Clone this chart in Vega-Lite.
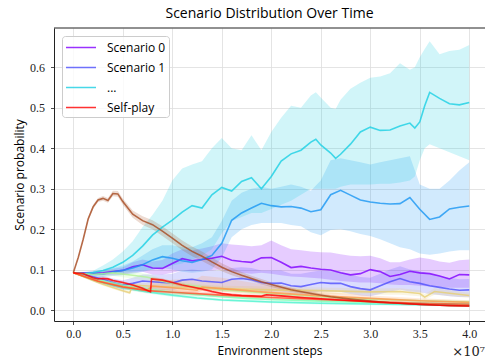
{
"$schema":"https://vega.github.io/schema/vega-lite/v6.json",
"width":431,"height":293,
"autosize":{"type":"none"},
"padding":{"left":54,"top":28,"right":0,"bottom":39},
"title":{"text":"Scenario Distribution Over Time","font":"Open Sans","fontSize":14,"fontWeight":"normal","color":"#000","offset":7,"frame":"group","anchor":"middle"},
"config":{
 "view":{"stroke":null},
 "axis":{"gridColor":"#dddddd","gridWidth":0.8,"domainColor":"#222","domainWidth":1,"tickColor":"#222","tickSize":3.5,"tickWidth":0.8,"labelFont":"Liberation Serif","labelFontSize":12,"labelColor":"#222","titleFont":"Open Sans","titleFontSize":12,"titleFontWeight":"normal","titleColor":"#000"},
 "legend":{"orient":"top-left","offset":8,"padding":3,"symbolType":"M-1,0H3","symbolSize":225,"symbolStrokeWidth":1.5,"symbolOpacity":0.8,"labelFont":"Open Sans","labelFontSize":12,"labelColor":"#000","labelOffset":25,"fillColor":"rgba(255,255,255,0.8)","strokeColor":"#cccccc","cornerRadius":3,"rowPadding":5}
},
"datasets":{
"note":[{"t":"×10⁷"}],
"top":[{"t":"top"}],
"main":[
{"s":"S0","x":0.0,"y":0.092,"lo":0.092,"hi":0.092},
{"s":"S0","x":0.1,"y":0.092,"lo":0.090,"hi":0.094},
{"s":"S0","x":0.2,"y":0.091,"lo":0.087,"hi":0.096},
{"s":"S0","x":0.3,"y":0.092,"lo":0.086,"hi":0.099},
{"s":"S0","x":0.4,"y":0.095,"lo":0.087,"hi":0.102},
{"s":"S0","x":0.5,"y":0.098,"lo":0.088,"hi":0.106},
{"s":"S0","x":0.6,"y":0.107,"lo":0.092,"hi":0.118},
{"s":"S0","x":0.7,"y":0.112,"lo":0.095,"hi":0.125},
{"s":"S0","x":0.8,"y":0.104,"lo":0.088,"hi":0.120},
{"s":"S0","x":0.9,"y":0.103,"lo":0.087,"hi":0.124},
{"s":"S0","x":1.0,"y":0.115,"lo":0.092,"hi":0.140},
{"s":"S0","x":1.1,"y":0.127,"lo":0.098,"hi":0.150},
{"s":"S0","x":1.2,"y":0.122,"lo":0.096,"hi":0.148},
{"s":"S0","x":1.3,"y":0.125,"lo":0.097,"hi":0.152},
{"s":"S0","x":1.4,"y":0.128,"lo":0.098,"hi":0.158},
{"s":"S0","x":1.5,"y":0.133,"lo":0.100,"hi":0.165},
{"s":"S0","x":1.6,"y":0.123,"lo":0.095,"hi":0.162},
{"s":"S0","x":1.7,"y":0.120,"lo":0.092,"hi":0.160},
{"s":"S0","x":1.8,"y":0.118,"lo":0.090,"hi":0.158},
{"s":"S0","x":1.9,"y":0.129,"lo":0.092,"hi":0.160},
{"s":"S0","x":2.0,"y":0.130,"lo":0.090,"hi":0.172},
{"s":"S0","x":2.1,"y":0.118,"lo":0.086,"hi":0.160},
{"s":"S0","x":2.2,"y":0.105,"lo":0.083,"hi":0.150},
{"s":"S0","x":2.3,"y":0.108,"lo":0.082,"hi":0.148},
{"s":"S0","x":2.4,"y":0.104,"lo":0.080,"hi":0.145},
{"s":"S0","x":2.5,"y":0.101,"lo":0.078,"hi":0.143},
{"s":"S0","x":2.6,"y":0.099,"lo":0.075,"hi":0.142},
{"s":"S0","x":2.7,"y":0.092,"lo":0.072,"hi":0.138},
{"s":"S0","x":2.8,"y":0.087,"lo":0.070,"hi":0.134},
{"s":"S0","x":2.9,"y":0.090,"lo":0.068,"hi":0.133},
{"s":"S0","x":3.0,"y":0.100,"lo":0.068,"hi":0.134},
{"s":"S0","x":3.1,"y":0.095,"lo":0.066,"hi":0.128},
{"s":"S0","x":3.2,"y":0.083,"lo":0.063,"hi":0.118},
{"s":"S0","x":3.3,"y":0.088,"lo":0.062,"hi":0.118},
{"s":"S0","x":3.4,"y":0.096,"lo":0.062,"hi":0.125},
{"s":"S0","x":3.5,"y":0.092,"lo":0.060,"hi":0.130},
{"s":"S0","x":3.6,"y":0.090,"lo":0.058,"hi":0.126},
{"s":"S0","x":3.7,"y":0.084,"lo":0.057,"hi":0.120},
{"s":"S0","x":3.8,"y":0.077,"lo":0.055,"hi":0.117},
{"s":"S0","x":3.9,"y":0.088,"lo":0.055,"hi":0.123},
{"s":"S0","x":4.0,"y":0.087,"lo":0.055,"hi":0.125},
{"s":"S1","x":0.0,"y":0.092,"lo":0.092,"hi":0.092},
{"s":"S1","x":0.1,"y":0.088,"lo":0.084,"hi":0.092},
{"s":"S1","x":0.2,"y":0.082,"lo":0.076,"hi":0.088},
{"s":"S1","x":0.3,"y":0.076,"lo":0.068,"hi":0.084},
{"s":"S1","x":0.4,"y":0.068,"lo":0.058,"hi":0.078},
{"s":"S1","x":0.5,"y":0.062,"lo":0.050,"hi":0.074},
{"s":"S1","x":0.6,"y":0.066,"lo":0.052,"hi":0.080},
{"s":"S1","x":0.7,"y":0.072,"lo":0.055,"hi":0.088},
{"s":"S1","x":0.8,"y":0.070,"lo":0.052,"hi":0.088},
{"s":"S1","x":0.9,"y":0.068,"lo":0.050,"hi":0.088},
{"s":"S1","x":1.0,"y":0.067,"lo":0.049,"hi":0.090},
{"s":"S1","x":1.1,"y":0.074,"lo":0.053,"hi":0.098},
{"s":"S1","x":1.2,"y":0.076,"lo":0.054,"hi":0.100},
{"s":"S1","x":1.3,"y":0.072,"lo":0.051,"hi":0.098},
{"s":"S1","x":1.4,"y":0.070,"lo":0.050,"hi":0.098},
{"s":"S1","x":1.5,"y":0.068,"lo":0.048,"hi":0.097},
{"s":"S1","x":1.6,"y":0.076,"lo":0.052,"hi":0.104},
{"s":"S1","x":1.7,"y":0.078,"lo":0.054,"hi":0.106},
{"s":"S1","x":1.8,"y":0.075,"lo":0.052,"hi":0.104},
{"s":"S1","x":1.9,"y":0.068,"lo":0.047,"hi":0.098},
{"s":"S1","x":2.0,"y":0.066,"lo":0.046,"hi":0.098},
{"s":"S1","x":2.1,"y":0.067,"lo":0.046,"hi":0.098},
{"s":"S1","x":2.2,"y":0.060,"lo":0.042,"hi":0.090},
{"s":"S1","x":2.3,"y":0.058,"lo":0.040,"hi":0.090},
{"s":"S1","x":2.4,"y":0.063,"lo":0.043,"hi":0.094},
{"s":"S1","x":2.5,"y":0.068,"lo":0.046,"hi":0.098},
{"s":"S1","x":2.6,"y":0.066,"lo":0.045,"hi":0.096},
{"s":"S1","x":2.7,"y":0.066,"lo":0.045,"hi":0.095},
{"s":"S1","x":2.8,"y":0.058,"lo":0.040,"hi":0.088},
{"s":"S1","x":2.9,"y":0.053,"lo":0.036,"hi":0.082},
{"s":"S1","x":3.0,"y":0.050,"lo":0.034,"hi":0.080},
{"s":"S1","x":3.1,"y":0.060,"lo":0.040,"hi":0.090},
{"s":"S1","x":3.2,"y":0.070,"lo":0.046,"hi":0.100},
{"s":"S1","x":3.3,"y":0.078,"lo":0.050,"hi":0.108},
{"s":"S1","x":3.4,"y":0.070,"lo":0.046,"hi":0.100},
{"s":"S1","x":3.5,"y":0.066,"lo":0.044,"hi":0.096},
{"s":"S1","x":3.6,"y":0.060,"lo":0.040,"hi":0.090},
{"s":"S1","x":3.7,"y":0.056,"lo":0.037,"hi":0.085},
{"s":"S1","x":3.8,"y":0.052,"lo":0.034,"hi":0.080},
{"s":"S1","x":3.9,"y":0.049,"lo":0.032,"hi":0.076},
{"s":"S1","x":4.0,"y":0.050,"lo":0.032,"hi":0.077},
{"s":"S2","x":0.0,"y":0.092,"lo":0.092,"hi":0.092},
{"s":"S2","x":0.1,"y":0.090,"lo":0.087,"hi":0.093},
{"s":"S2","x":0.2,"y":0.089,"lo":0.084,"hi":0.095},
{"s":"S2","x":0.3,"y":0.089,"lo":0.082,"hi":0.098},
{"s":"S2","x":0.4,"y":0.094,"lo":0.084,"hi":0.104},
{"s":"S2","x":0.5,"y":0.098,"lo":0.086,"hi":0.110},
{"s":"S2","x":0.6,"y":0.104,"lo":0.090,"hi":0.120},
{"s":"S2","x":0.7,"y":0.112,"lo":0.094,"hi":0.135},
{"s":"S2","x":0.8,"y":0.124,"lo":0.100,"hi":0.150},
{"s":"S2","x":0.9,"y":0.132,"lo":0.104,"hi":0.160},
{"s":"S2","x":1.0,"y":0.128,"lo":0.100,"hi":0.160},
{"s":"S2","x":1.1,"y":0.122,"lo":0.095,"hi":0.155},
{"s":"S2","x":1.2,"y":0.118,"lo":0.092,"hi":0.155},
{"s":"S2","x":1.3,"y":0.125,"lo":0.095,"hi":0.165},
{"s":"S2","x":1.4,"y":0.135,"lo":0.100,"hi":0.180},
{"s":"S2","x":1.5,"y":0.165,"lo":0.130,"hi":0.220},
{"s":"S2","x":1.6,"y":0.222,"lo":0.180,"hi":0.270},
{"s":"S2","x":1.7,"y":0.240,"lo":0.200,"hi":0.290},
{"s":"S2","x":1.8,"y":0.252,"lo":0.210,"hi":0.300},
{"s":"S2","x":1.9,"y":0.264,"lo":0.215,"hi":0.305},
{"s":"S2","x":2.0,"y":0.258,"lo":0.215,"hi":0.300},
{"s":"S2","x":2.1,"y":0.255,"lo":0.215,"hi":0.305},
{"s":"S2","x":2.2,"y":0.256,"lo":0.210,"hi":0.310},
{"s":"S2","x":2.3,"y":0.252,"lo":0.207,"hi":0.305},
{"s":"S2","x":2.4,"y":0.243,"lo":0.192,"hi":0.295},
{"s":"S2","x":2.5,"y":0.248,"lo":0.185,"hi":0.320},
{"s":"S2","x":2.6,"y":0.285,"lo":0.198,"hi":0.370},
{"s":"S2","x":2.7,"y":0.296,"lo":0.200,"hi":0.375},
{"s":"S2","x":2.8,"y":0.284,"lo":0.195,"hi":0.370},
{"s":"S2","x":2.9,"y":0.272,"lo":0.188,"hi":0.365},
{"s":"S2","x":3.0,"y":0.267,"lo":0.183,"hi":0.360},
{"s":"S2","x":3.1,"y":0.264,"lo":0.175,"hi":0.365},
{"s":"S2","x":3.2,"y":0.262,"lo":0.165,"hi":0.370},
{"s":"S2","x":3.3,"y":0.263,"lo":0.155,"hi":0.375},
{"s":"S2","x":3.4,"y":0.278,"lo":0.150,"hi":0.380},
{"s":"S2","x":3.5,"y":0.249,"lo":0.140,"hi":0.310},
{"s":"S2","x":3.6,"y":0.224,"lo":0.137,"hi":0.300},
{"s":"S2","x":3.7,"y":0.230,"lo":0.140,"hi":0.300},
{"s":"S2","x":3.8,"y":0.250,"lo":0.145,"hi":0.320},
{"s":"S2","x":3.9,"y":0.254,"lo":0.148,"hi":0.345},
{"s":"S2","x":4.0,"y":0.257,"lo":0.148,"hi":0.365},
{"s":"S3","x":0.0,"y":0.092,"lo":0.092,"hi":0.092},
{"s":"S3","x":0.1,"y":0.090,"lo":0.088,"hi":0.092},
{"s":"S3","x":0.2,"y":0.093,"lo":0.088,"hi":0.097},
{"s":"S3","x":0.3,"y":0.098,"lo":0.088,"hi":0.110},
{"s":"S3","x":0.4,"y":0.106,"lo":0.090,"hi":0.125},
{"s":"S3","x":0.5,"y":0.118,"lo":0.092,"hi":0.145},
{"s":"S3","x":0.6,"y":0.135,"lo":0.095,"hi":0.170},
{"s":"S3","x":0.7,"y":0.158,"lo":0.098,"hi":0.205},
{"s":"S3","x":0.8,"y":0.185,"lo":0.100,"hi":0.235},
{"s":"S3","x":0.9,"y":0.205,"lo":0.105,"hi":0.270},
{"s":"S3","x":1.0,"y":0.222,"lo":0.110,"hi":0.320},
{"s":"S3","x":1.1,"y":0.242,"lo":0.115,"hi":0.350},
{"s":"S3","x":1.2,"y":0.258,"lo":0.125,"hi":0.360},
{"s":"S3","x":1.3,"y":0.252,"lo":0.135,"hi":0.368},
{"s":"S3","x":1.4,"y":0.285,"lo":0.150,"hi":0.400},
{"s":"S3","x":1.5,"y":0.303,"lo":0.190,"hi":0.425},
{"s":"S3","x":1.6,"y":0.294,"lo":0.220,"hi":0.400},
{"s":"S3","x":1.7,"y":0.318,"lo":0.230,"hi":0.395},
{"s":"S3","x":1.8,"y":0.327,"lo":0.240,"hi":0.432},
{"s":"S3","x":1.9,"y":0.300,"lo":0.240,"hi":0.395},
{"s":"S3","x":2.0,"y":0.330,"lo":0.250,"hi":0.440},
{"s":"S3","x":2.1,"y":0.368,"lo":0.260,"hi":0.475},
{"s":"S3","x":2.2,"y":0.386,"lo":0.270,"hi":0.505},
{"s":"S3","x":2.3,"y":0.395,"lo":0.285,"hi":0.500},
{"s":"S3","x":2.4,"y":0.415,"lo":0.300,"hi":0.530},
{"s":"S3","x":2.45,"y":0.422,"lo":0.300,"hi":0.538},
{"s":"S3","x":2.5,"y":0.408,"lo":0.300,"hi":0.525},
{"s":"S3","x":2.6,"y":0.388,"lo":0.300,"hi":0.500},
{"s":"S3","x":2.65,"y":0.375,"lo":0.300,"hi":0.497},
{"s":"S3","x":2.7,"y":0.385,"lo":0.305,"hi":0.520},
{"s":"S3","x":2.8,"y":0.410,"lo":0.310,"hi":0.547},
{"s":"S3","x":2.9,"y":0.440,"lo":0.310,"hi":0.562},
{"s":"S3","x":3.0,"y":0.452,"lo":0.310,"hi":0.574},
{"s":"S3","x":3.1,"y":0.444,"lo":0.312,"hi":0.577},
{"s":"S3","x":3.2,"y":0.445,"lo":0.312,"hi":0.585},
{"s":"S3","x":3.3,"y":0.455,"lo":0.315,"hi":0.610},
{"s":"S3","x":3.4,"y":0.462,"lo":0.320,"hi":0.594},
{"s":"S3","x":3.45,"y":0.450,"lo":0.330,"hi":0.600},
{"s":"S3","x":3.5,"y":0.465,"lo":0.370,"hi":0.625},
{"s":"S3","x":3.55,"y":0.505,"lo":0.400,"hi":0.645},
{"s":"S3","x":3.6,"y":0.538,"lo":0.410,"hi":0.664},
{"s":"S3","x":3.7,"y":0.523,"lo":0.400,"hi":0.632},
{"s":"S3","x":3.8,"y":0.510,"lo":0.390,"hi":0.640},
{"s":"S3","x":3.9,"y":0.507,"lo":0.380,"hi":0.643},
{"s":"S3","x":4.0,"y":0.513,"lo":0.370,"hi":0.655},
{"s":"S4","x":0.0,"y":0.092,"lo":0.092,"hi":0.092},
{"s":"S4","x":0.25,"y":0.070,"lo":0.066,"hi":0.074},
{"s":"S4","x":0.5,"y":0.055,"lo":0.051,"hi":0.059},
{"s":"S4","x":0.75,"y":0.045,"lo":0.041,"hi":0.049},
{"s":"S4","x":1.0,"y":0.037,"lo":0.033,"hi":0.041},
{"s":"S4","x":1.25,"y":0.030,"lo":0.027,"hi":0.034},
{"s":"S4","x":1.5,"y":0.025,"lo":0.022,"hi":0.028},
{"s":"S4","x":2.0,"y":0.020,"lo":0.017,"hi":0.023},
{"s":"S4","x":2.5,"y":0.017,"lo":0.014,"hi":0.020},
{"s":"S4","x":3.0,"y":0.015,"lo":0.012,"hi":0.018},
{"s":"S4","x":3.5,"y":0.013,"lo":0.010,"hi":0.016},
{"s":"S4","x":4.0,"y":0.012,"lo":0.009,"hi":0.015},
{"s":"S5","x":0.0,"y":0.092,"lo":0.092,"hi":0.092},
{"s":"S5","x":0.25,"y":0.075,"lo":0.071,"hi":0.079},
{"s":"S5","x":0.5,"y":0.062,"lo":0.057,"hi":0.067},
{"s":"S5","x":0.75,"y":0.052,"lo":0.047,"hi":0.057},
{"s":"S5","x":1.0,"y":0.044,"lo":0.040,"hi":0.049},
{"s":"S5","x":1.25,"y":0.038,"lo":0.034,"hi":0.042},
{"s":"S5","x":1.5,"y":0.033,"lo":0.030,"hi":0.037},
{"s":"S5","x":1.75,"y":0.029,"lo":0.026,"hi":0.033},
{"s":"S5","x":2.0,"y":0.026,"lo":0.023,"hi":0.029},
{"s":"S5","x":2.5,"y":0.022,"lo":0.019,"hi":0.025},
{"s":"S5","x":3.0,"y":0.019,"lo":0.016,"hi":0.022},
{"s":"S5","x":3.5,"y":0.017,"lo":0.014,"hi":0.020},
{"s":"S5","x":4.0,"y":0.015,"lo":0.012,"hi":0.018},
{"s":"S6","x":0.0,"y":0.092,"lo":0.092,"hi":0.092},
{"s":"S6","x":0.2,"y":0.088,"lo":0.082,"hi":0.094},
{"s":"S6","x":0.4,"y":0.092,"lo":0.084,"hi":0.100},
{"s":"S6","x":0.6,"y":0.086,"lo":0.078,"hi":0.094},
{"s":"S6","x":0.75,"y":0.081,"lo":0.073,"hi":0.089},
{"s":"S6","x":0.9,"y":0.071,"lo":0.064,"hi":0.078},
{"s":"S6","x":1.0,"y":0.066,"lo":0.059,"hi":0.073},
{"s":"S6","x":1.25,"y":0.059,"lo":0.053,"hi":0.065},
{"s":"S6","x":1.5,"y":0.051,"lo":0.046,"hi":0.057},
{"s":"S6","x":2.0,"y":0.041,"lo":0.036,"hi":0.046},
{"s":"S6","x":2.5,"y":0.033,"lo":0.029,"hi":0.037},
{"s":"S6","x":3.0,"y":0.027,"lo":0.024,"hi":0.031},
{"s":"S6","x":3.5,"y":0.023,"lo":0.020,"hi":0.027},
{"s":"S6","x":4.0,"y":0.020,"lo":0.017,"hi":0.024},
{"s":"S7","x":0.0,"y":0.092,"lo":0.092,"hi":0.092},
{"s":"S7","x":0.1,"y":0.083,"lo":0.080,"hi":0.086},
{"s":"S7","x":0.2,"y":0.073,"lo":0.070,"hi":0.077},
{"s":"S7","x":0.3,"y":0.064,"lo":0.060,"hi":0.068},
{"s":"S7","x":0.4,"y":0.056,"lo":0.052,"hi":0.060},
{"s":"S7","x":0.5,"y":0.048,"lo":0.044,"hi":0.052},
{"s":"S7","x":0.57,"y":0.043,"lo":0.039,"hi":0.047},
{"s":"S7","x":0.6,"y":0.062,"lo":0.056,"hi":0.068},
{"s":"S7","x":0.8,"y":0.059,"lo":0.053,"hi":0.066},
{"s":"S7","x":1.0,"y":0.057,"lo":0.050,"hi":0.064},
{"s":"S7","x":1.5,"y":0.053,"lo":0.046,"hi":0.060},
{"s":"S7","x":2.0,"y":0.050,"lo":0.043,"hi":0.058},
{"s":"S7","x":2.5,"y":0.048,"lo":0.040,"hi":0.056},
{"s":"S7","x":3.0,"y":0.045,"lo":0.038,"hi":0.053},
{"s":"S7","x":3.3,"y":0.046,"lo":0.038,"hi":0.054},
{"s":"S7","x":3.5,"y":0.041,"lo":0.034,"hi":0.049},
{"s":"S7","x":3.55,"y":0.032,"lo":0.026,"hi":0.040},
{"s":"S7","x":3.65,"y":0.046,"lo":0.038,"hi":0.054},
{"s":"S7","x":4.0,"y":0.036,"lo":0.030,"hi":0.043},
{"s":"S8","x":0.0,"y":0.092,"lo":0.092,"hi":0.092},
{"s":"S8","x":0.25,"y":0.072,"lo":0.068,"hi":0.076},
{"s":"S8","x":0.5,"y":0.058,"lo":0.053,"hi":0.064},
{"s":"S8","x":0.75,"y":0.049,"lo":0.044,"hi":0.055},
{"s":"S8","x":0.8,"y":0.059,"lo":0.052,"hi":0.070},
{"s":"S8","x":1.0,"y":0.055,"lo":0.047,"hi":0.075},
{"s":"S8","x":1.25,"y":0.049,"lo":0.042,"hi":0.078},
{"s":"S8","x":1.3,"y":0.057,"lo":0.048,"hi":0.085},
{"s":"S8","x":1.5,"y":0.053,"lo":0.045,"hi":0.080},
{"s":"S8","x":2.0,"y":0.043,"lo":0.036,"hi":0.060},
{"s":"S8","x":2.5,"y":0.035,"lo":0.029,"hi":0.045},
{"s":"S8","x":3.0,"y":0.029,"lo":0.024,"hi":0.036},
{"s":"S8","x":3.5,"y":0.023,"lo":0.019,"hi":0.029},
{"s":"S8","x":4.0,"y":0.019,"lo":0.015,"hi":0.024},
{"s":"S9","x":0.0,"y":0.092,"lo":0.092,"hi":0.092},
{"s":"S9","x":0.25,"y":0.071,"lo":0.067,"hi":0.075},
{"s":"S9","x":0.5,"y":0.057,"lo":0.052,"hi":0.062},
{"s":"S9","x":0.75,"y":0.048,"lo":0.043,"hi":0.053},
{"s":"S9","x":1.0,"y":0.044,"lo":0.039,"hi":0.050},
{"s":"S9","x":1.5,"y":0.037,"lo":0.032,"hi":0.043},
{"s":"S9","x":2.0,"y":0.031,"lo":0.027,"hi":0.036},
{"s":"S9","x":2.5,"y":0.026,"lo":0.022,"hi":0.030},
{"s":"S9","x":3.0,"y":0.021,"lo":0.018,"hi":0.025},
{"s":"S9","x":3.5,"y":0.017,"lo":0.014,"hi":0.020},
{"s":"S9","x":4.0,"y":0.014,"lo":0.011,"hi":0.017},
{"s":"BR","x":0.0,"y":0.092,"lo":0.092,"hi":0.092},
{"s":"BR","x":0.05,"y":0.130,"lo":0.127,"hi":0.133},
{"s":"BR","x":0.1,"y":0.175,"lo":0.171,"hi":0.179},
{"s":"BR","x":0.15,"y":0.225,"lo":0.220,"hi":0.230},
{"s":"BR","x":0.2,"y":0.255,"lo":0.250,"hi":0.260},
{"s":"BR","x":0.25,"y":0.272,"lo":0.267,"hi":0.277},
{"s":"BR","x":0.3,"y":0.276,"lo":0.270,"hi":0.282},
{"s":"BR","x":0.35,"y":0.271,"lo":0.265,"hi":0.277},
{"s":"BR","x":0.4,"y":0.288,"lo":0.281,"hi":0.295},
{"s":"BR","x":0.45,"y":0.287,"lo":0.280,"hi":0.294},
{"s":"BR","x":0.5,"y":0.268,"lo":0.260,"hi":0.276},
{"s":"BR","x":0.6,"y":0.237,"lo":0.228,"hi":0.246},
{"s":"BR","x":0.7,"y":0.221,"lo":0.210,"hi":0.232},
{"s":"BR","x":0.8,"y":0.211,"lo":0.200,"hi":0.222},
{"s":"BR","x":0.9,"y":0.195,"lo":0.183,"hi":0.207},
{"s":"BR","x":1.0,"y":0.178,"lo":0.166,"hi":0.190},
{"s":"BR","x":1.1,"y":0.160,"lo":0.148,"hi":0.172},
{"s":"BR","x":1.2,"y":0.145,"lo":0.133,"hi":0.157},
{"s":"BR","x":1.3,"y":0.133,"lo":0.121,"hi":0.145},
{"s":"BR","x":1.4,"y":0.119,"lo":0.108,"hi":0.130},
{"s":"BR","x":1.5,"y":0.106,"lo":0.096,"hi":0.116},
{"s":"BR","x":1.6,"y":0.095,"lo":0.086,"hi":0.104},
{"s":"BR","x":1.7,"y":0.086,"lo":0.078,"hi":0.094},
{"s":"BR","x":1.8,"y":0.078,"lo":0.071,"hi":0.085},
{"s":"BR","x":1.9,"y":0.070,"lo":0.063,"hi":0.077},
{"s":"BR","x":2.0,"y":0.063,"lo":0.057,"hi":0.069},
{"s":"BR","x":2.2,"y":0.050,"lo":0.045,"hi":0.055},
{"s":"BR","x":2.4,"y":0.041,"lo":0.037,"hi":0.045},
{"s":"BR","x":2.6,"y":0.033,"lo":0.029,"hi":0.037},
{"s":"BR","x":2.8,"y":0.027,"lo":0.024,"hi":0.030},
{"s":"BR","x":3.0,"y":0.022,"lo":0.019,"hi":0.025},
{"s":"BR","x":3.2,"y":0.018,"lo":0.016,"hi":0.020},
{"s":"BR","x":3.4,"y":0.015,"lo":0.013,"hi":0.017},
{"s":"BR","x":3.6,"y":0.013,"lo":0.011,"hi":0.015},
{"s":"BR","x":3.8,"y":0.011,"lo":0.009,"hi":0.013},
{"s":"BR","x":4.0,"y":0.010,"lo":0.008,"hi":0.012},
{"s":"SP","x":0.0,"y":0.092,"lo":0.092,"hi":0.092},
{"s":"SP","x":0.1,"y":0.090,"lo":0.087,"hi":0.093},
{"s":"SP","x":0.15,"y":0.085,"lo":0.082,"hi":0.088},
{"s":"SP","x":0.2,"y":0.080,"lo":0.077,"hi":0.083},
{"s":"SP","x":0.25,"y":0.077,"lo":0.074,"hi":0.080},
{"s":"SP","x":0.3,"y":0.078,"lo":0.075,"hi":0.081},
{"s":"SP","x":0.35,"y":0.077,"lo":0.074,"hi":0.080},
{"s":"SP","x":0.4,"y":0.073,"lo":0.070,"hi":0.076},
{"s":"SP","x":0.5,"y":0.068,"lo":0.065,"hi":0.071},
{"s":"SP","x":0.6,"y":0.062,"lo":0.059,"hi":0.065},
{"s":"SP","x":0.7,"y":0.054,"lo":0.051,"hi":0.057},
{"s":"SP","x":0.78,"y":0.045,"lo":0.042,"hi":0.048},
{"s":"SP","x":0.79,"y":0.077,"lo":0.073,"hi":0.081},
{"s":"SP","x":0.9,"y":0.074,"lo":0.070,"hi":0.078},
{"s":"SP","x":1.0,"y":0.068,"lo":0.064,"hi":0.072},
{"s":"SP","x":1.1,"y":0.062,"lo":0.058,"hi":0.066},
{"s":"SP","x":1.2,"y":0.057,"lo":0.053,"hi":0.061},
{"s":"SP","x":1.3,"y":0.052,"lo":0.048,"hi":0.056},
{"s":"SP","x":1.4,"y":0.046,"lo":0.043,"hi":0.049},
{"s":"SP","x":1.5,"y":0.041,"lo":0.038,"hi":0.044},
{"s":"SP","x":1.6,"y":0.038,"lo":0.035,"hi":0.041},
{"s":"SP","x":1.7,"y":0.036,"lo":0.033,"hi":0.039},
{"s":"SP","x":1.8,"y":0.035,"lo":0.032,"hi":0.038},
{"s":"SP","x":1.9,"y":0.034,"lo":0.031,"hi":0.037},
{"s":"SP","x":1.95,"y":0.038,"lo":0.035,"hi":0.041},
{"s":"SP","x":2.1,"y":0.035,"lo":0.032,"hi":0.038},
{"s":"SP","x":2.3,"y":0.031,"lo":0.028,"hi":0.034},
{"s":"SP","x":2.5,"y":0.028,"lo":0.025,"hi":0.031},
{"s":"SP","x":2.7,"y":0.025,"lo":0.022,"hi":0.028},
{"s":"SP","x":2.9,"y":0.022,"lo":0.020,"hi":0.024},
{"s":"SP","x":3.1,"y":0.019,"lo":0.017,"hi":0.021},
{"s":"SP","x":3.3,"y":0.017,"lo":0.015,"hi":0.019},
{"s":"SP","x":3.5,"y":0.014,"lo":0.012,"hi":0.016},
{"s":"SP","x":3.7,"y":0.012,"lo":0.010,"hi":0.014},
{"s":"SP","x":4.0,"y":0.010,"lo":0.008,"hi":0.012}
]},
"layer":[
 {"data":{"name":"main"},
  "mark":{"type":"area","fillOpacity":0.2,"strokeWidth":0},
  "encoding":{
   "x":{"field":"x","type":"quantitative","scale":{"domain":[-0.195,4.159],"nice":false,"zero":false},"axis":{"title":"Environment steps","values":[0,0.5,1,1.5,2,2.5,3,3.5,4],"format":".1f","labelPadding":4,"titlePadding":6,"labelBaseline":"top"}},
   "y":{"field":"lo","type":"quantitative","scale":{"domain":[-0.027,0.697],"nice":false,"zero":false},"axis":{"title":"Scenario probability","values":[0,0.1,0.2,0.3,0.4,0.5,0.6],"format":".1f","labelPadding":6,"titlePadding":3}},
   "y2":{"field":"hi"},
   "fill":{"field":"s","type":"nominal","legend":null,"scale":{"domain":["SP","BR","S9","S8","S7","S6","S5","S4","S3","S2","S1","S0"],"range":["#ff0000","#a64a20","#ff4f28","#ff964f","#e6ce74","#b3f396","#80ffb4","#4df3ce","#1acfe3","#1996f3","#4d4ffc","#8000ff"]}}
  }},
 {"data":{"name":"main"},
  "mark":{"type":"line","strokeWidth":1.6,"strokeOpacity":0.8},
  "encoding":{
   "x":{"field":"x","type":"quantitative"},
   "y":{"field":"y","type":"quantitative"},
   "color":{"field":"s","type":"nominal","scale":{"domain":["S0","S1","S2","S3","S4","S5","S6","S7","S8","S9","BR","SP"],"range":["#8000ff","#4d4ffc","#1996f3","#1acfe3","#4df3ce","#80ffb4","#b3f396","#e6ce74","#ff964f","#ff4f28","#a64a20","#ff0000"]},
    "legend":{"title":null,"values":["S0","S1","S3","SP"],"labelExpr":"datum.label == 'S0' ? 'Scenario 0' : datum.label == 'S1' ? 'Scenario 1' : datum.label == 'S3' ? '...' : 'Self-play'"}}
  }},
 {"data":{"name":"note"},
  "mark":{"type":"text","align":"right","baseline":"alphabetic","font":"DejaVu Serif","fontSize":13,"color":"#222","clip":false},
  "encoding":{"x":{"datum":4.159},"y":{"datum":-0.114},"text":{"field":"t","type":"nominal"}}},
 {"data":{"name":"top"},
  "mark":{"type":"rule","color":"#222","strokeWidth":1},
  "encoding":{"y":{"datum":0.697}}}
]
}
